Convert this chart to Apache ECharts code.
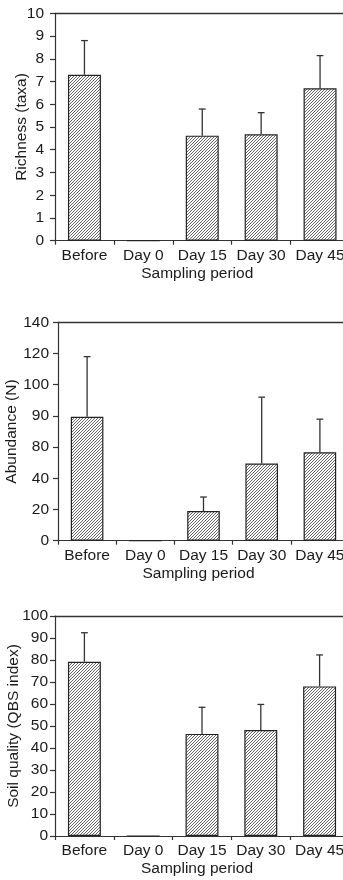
<!DOCTYPE html>
<html>
<head>
<meta charset="utf-8">
<script src="https://cdn.jsdelivr.net/npm/echarts@6/dist/echarts.min.js"></script>
<style>
html,body{margin:0;padding:0;background:#fff;}
#c{width:343px;height:880px;}
</style>
</head>
<body>
<div id="c"></div>
<script>
// ---- data ----
var categories = ['Before', 'Day 0', 'Day 15', 'Day 30', 'Day 45'];

var richnessMean = [7.3, 0, 4.62, 4.68, 6.7];
var richnessSD   = [1.5, 0, 1.17, 0.95, 1.44];
var richnessTicks = ['0','1','2','3','4','5','6','7','8','9','10'];

var abundanceMean = [79.5, 0, 19, 49.5, 56.7];
var abundanceSD   = [38.5, 0, 9, 42.5, 21.2];
// tick labels exactly as printed in the original figure
var abundanceTicks = ['0','20','40','80','90','100','120','140'];

var qbsMean = [79.2, 0, 46.4, 48.2, 68.0];
var qbsSD   = [13.2, 0, 12.1, 11.6, 14.3];
var qbsTicks = ['0','10','20','30','40','50','60','70','80','90','100'];

// ---- style ----
var FONT = 'Liberation Sans, Arial, sans-serif';
var FS = 15.5;
var TXT = '#1a1a1a';
var AX = '#333';

function hatch() {
  var cv = document.createElement('canvas');
  cv.width = 6; cv.height = 6;
  var g = cv.getContext('2d');
  g.fillStyle = '#fff';
  g.fillRect(0, 0, 6, 6);
  g.strokeStyle = '#4a4a4a';
  g.lineWidth = 0.85;
  for (var i = -6; i <= 12; i += 3) {
    g.beginPath();
    g.moveTo(i, 6);
    g.lineTo(i + 6, 0);
    g.stroke();
  }
  return cv;
}
var pattern = { image: hatch(), repeat: 'repeat' };

var panels = [
  { grid: { left: 55, top: 13.3, width: 294.5, height: 227.4 }, max: 10, interval: 1, ticks: richnessTicks, name: 'Richness (taxa)', nameGap: 25.5, labelMargin: 11, mean: richnessMean, sd: richnessSD },
  { grid: { left: 58, top: 322.3, width: 291, height: 218.4 }, max: 140, interval: 20, ticks: abundanceTicks, name: 'Abundance (N)', nameGap: 38, labelMargin: 9, mean: abundanceMean, sd: abundanceSD },
  { grid: { left: 55, top: 616, width: 294, height: 220 }, max: 100, interval: 10, ticks: qbsTicks, name: 'Soil quality (QBS index)', nameGap: 33, labelMargin: 7, mean: qbsMean, sd: qbsSD }
];

var grids = [], xAxes = [], yAxes = [], series = [];
panels.forEach(function (p, k) {
  var gr = Object.assign({ outerBoundsMode: 'none', containLabel: false }, p.grid);
  grids.push(gr);
  xAxes.push({
    type: 'category', gridIndex: k, data: categories, position: 'bottom',
    axisLine: { lineStyle: { color: AX, width: 1.2 } },
    axisTick: { show: true, length: 4, lineStyle: { color: AX, width: 1.2 } },
    axisLabel: { color: TXT, fontSize: FS, fontFamily: FONT, margin: 7, interval: 0, hideOverlap: false },
    name: 'Sampling period', nameLocation: 'middle', nameGap: 25, nameMoveOverlap: false,
    nameTextStyle: { color: TXT, fontSize: FS, fontFamily: FONT, padding: [0, 10, 0, 0] }
  });
  xAxes.push({
    type: 'category', gridIndex: k, data: categories, position: 'top',
    axisLine: { show: true, lineStyle: { color: AX, width: 1.3 } },
    axisTick: { show: false }, axisLabel: { show: false }
  });
  yAxes.push({
    type: 'value', gridIndex: k, min: 0, max: p.max, interval: p.interval,
    splitLine: { show: false },
    axisLine: { show: true, lineStyle: { color: AX, width: 1.2 } },
    axisTick: { show: true, length: 5, lineStyle: { color: AX, width: 1.2 } },
    axisLabel: {
      color: TXT, fontSize: FS, fontFamily: FONT, margin: p.labelMargin,
      formatter: (function (ticks, iv) { return function (v) { return ticks[Math.round(v / iv)]; }; })(p.ticks, p.interval)
    },
    name: p.name, nameLocation: 'middle', nameGap: p.nameGap, nameMoveOverlap: false,
    nameTextStyle: { color: TXT, fontSize: FS, fontFamily: FONT }
  });
  series.push({
    type: 'bar', xAxisIndex: 2 * k, yAxisIndex: k, data: p.mean, barWidth: '56%',
    itemStyle: { color: pattern, borderColor: '#222', borderWidth: 1.2 },
    silent: true, animation: false
  });
  var errData = p.mean.map(function (m, i) { return [i, m, m + p.sd[i]]; });
  series.push({
    type: 'custom', xAxisIndex: 2 * k, yAxisIndex: k, data: errData, animation: false, silent: true,
    renderItem: function (params, api) {
      var lo = api.value(1), hi = api.value(2);
      if (hi <= lo) return null;
      var a = api.coord([api.value(0), lo]);
      var b = api.coord([api.value(0), hi]);
      var st = { stroke: '#333', lineWidth: 1.3 };
      return { type: 'group', children: [
        { type: 'line', shape: { x1: a[0], y1: a[1], x2: b[0], y2: b[1] }, style: st },
        { type: 'line', shape: { x1: b[0] - 3.4, y1: b[1], x2: b[0] + 3.4, y2: b[1] }, style: st }
      ] };
    },
    z: 5
  });
});

var chart = echarts.init(document.getElementById('c'), null, { renderer: 'canvas' });
chart.setOption({
  animation: false,
  backgroundColor: '#fff',
  grid: grids, xAxis: xAxes, yAxis: yAxes, series: series
});
</script>
</body>
</html>
